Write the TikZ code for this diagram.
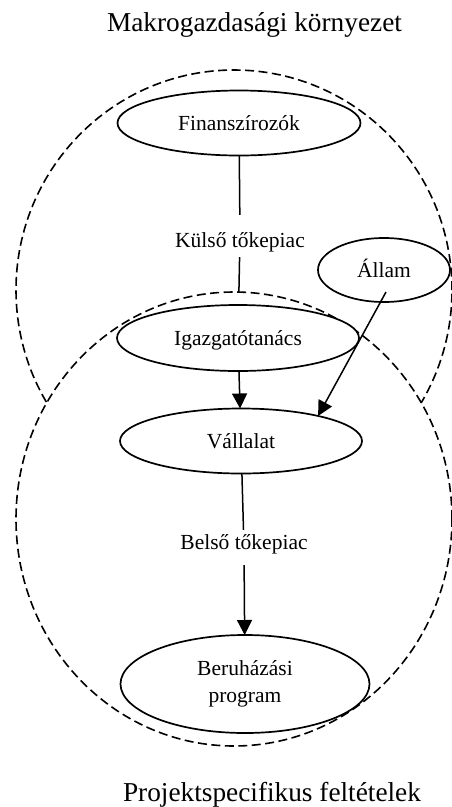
\documentclass[tikz,border=0pt]{standalone}
\usepackage{fontspec}
\setmainfont{Liberation Serif}
\usetikzlibrary{arrows.meta,shapes.geometric,calc}
\pgfdeclarelayer{back}
\pgfdeclarelayer{mid}
\pgfsetlayers{back,mid,main}
\begin{document}
\begin{tikzpicture}[x=1pt,y=-1pt,
  lbl/.style={font=\fontsize{21.5}{27}\selectfont},
  ell/.style={ellipse, draw, line width=1.7pt, fill=white, inner sep=0pt, outer sep=0pt, align=center, lbl},
  one/.style={text height=14pt, text depth=0pt},
  env/.style={draw, dash pattern=on 9pt off 4.5pt, line width=1.6pt},
  conn/.style={line width=1.5pt},
  arr/.style={line width=1.5pt, -{Triangle[length=15pt,width=15pt]}},
  ttl/.style={font=\fontsize{27.3}{32}\selectfont, anchor=base, inner sep=0pt}]
\useasboundingbox (0,0) rectangle (452,807);
% titles
\node[ttl] (t1) at (254.5,31) {Makrogazdasági környezet};
\node[ttl] (t2) at (272,801) {Projektspecifikus feltételek};
% nodes
\node[ell, one, minimum width=243pt, minimum height=65pt] (fin) at (239,123) {Finanszírozók};
\node[ell, one, minimum width=132pt, minimum height=64pt] (allam) at (384,270) {Állam};
\node[ell, one, minimum width=242pt, minimum height=66pt] (igaz) at (238,338) {Igazgatótanács};
\node[ell, one, minimum width=242pt, minimum height=65pt] (vall) at (241,441) {Vállalat};
\node[ell, minimum width=249pt, minimum height=98pt] (ber) at (245,684) {Beruházási\\program};
% labels
\node[lbl, anchor=base, inner sep=0pt, text height=32pt, text depth=10pt] (kl) at (240,247) {Külső tőkepiac};
\node[lbl, anchor=base, inner sep=0pt, text height=19pt, text depth=16pt] (bl) at (244,549) {Belső tőkepiac};
% environments and hidden connector
\begin{pgfonlayer}{back}
  \draw[env] (234,290) ellipse [x radius=218pt, y radius=220pt];
  \draw[conn] (fin) -- (kl);
  \draw[conn] (kl) -- (igaz);
\end{pgfonlayer}
\begin{pgfonlayer}{mid}
  \draw[env, fill=white] (234,519) ellipse [x radius=218pt, y radius=227pt];
\end{pgfonlayer}
% connectors
\draw[arr] (igaz) -- (vall);
\draw[arr] ($(allam.center)+(2,22)$) -- (vall.18);
\draw[conn] (vall) -- (bl);
\draw[arr] (bl) -- (ber);
\end{tikzpicture}
\end{document}
